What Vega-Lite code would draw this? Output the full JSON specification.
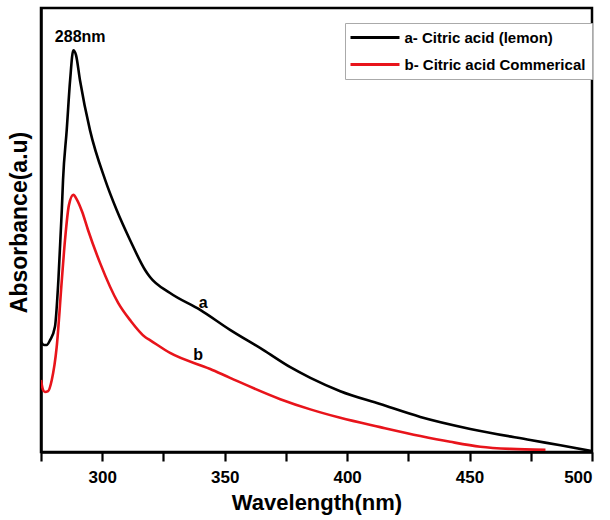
{
  "$schema": "https://vega.github.io/schema/vega-lite/v6.json",
  "width": 551,
  "height": 444,
  "autosize": {"type": "none"},
  "padding": {"left": 41, "top": 8, "right": 18, "bottom": 68},
  "background": "white",
  "config": {
    "view": {"stroke": "black", "strokeWidth": 2.5},
    "font": "Liberation Sans"
  },
  "datasets": {
    "spec": [
      {"s": "a- Citric acid (lemon)", "w": 275.0, "A": 24.8},
      {"s": "a- Citric acid (lemon)", "w": 276.2, "A": 24.1},
      {"s": "a- Citric acid (lemon)", "w": 277.3, "A": 24.1},
      {"s": "a- Citric acid (lemon)", "w": 278.7, "A": 25.2},
      {"s": "a- Citric acid (lemon)", "w": 280.7, "A": 28.2},
      {"s": "a- Citric acid (lemon)", "w": 282.1, "A": 38.7},
      {"s": "a- Citric acid (lemon)", "w": 283.5, "A": 54.5},
      {"s": "a- Citric acid (lemon)", "w": 284.0, "A": 61.3},
      {"s": "a- Citric acid (lemon)", "w": 285.5, "A": 72.5},
      {"s": "a- Citric acid (lemon)", "w": 286.9, "A": 83.8},
      {"s": "a- Citric acid (lemon)", "w": 288.2, "A": 90.5},
      {"s": "a- Citric acid (lemon)", "w": 289.3, "A": 89.4},
      {"s": "a- Citric acid (lemon)", "w": 290.9, "A": 83.8},
      {"s": "a- Citric acid (lemon)", "w": 295.0, "A": 72.5},
      {"s": "a- Citric acid (lemon)", "w": 301.2, "A": 61.3},
      {"s": "a- Citric acid (lemon)", "w": 305.9, "A": 54.5},
      {"s": "a- Citric acid (lemon)", "w": 311.4, "A": 47.7},
      {"s": "a- Citric acid (lemon)", "w": 317.5, "A": 41.0},
      {"s": "a- Citric acid (lemon)", "w": 319.5, "A": 39.4},
      {"s": "a- Citric acid (lemon)", "w": 327.7, "A": 35.8},
      {"s": "a- Citric acid (lemon)", "w": 340.0, "A": 32.0},
      {"s": "a- Citric acid (lemon)", "w": 352.2, "A": 27.5},
      {"s": "a- Citric acid (lemon)", "w": 365.7, "A": 23.0},
      {"s": "a- Citric acid (lemon)", "w": 376.8, "A": 19.1},
      {"s": "a- Citric acid (lemon)", "w": 385.0, "A": 16.7},
      {"s": "a- Citric acid (lemon)", "w": 397.2, "A": 13.7},
      {"s": "a- Citric acid (lemon)", "w": 413.5, "A": 10.8},
      {"s": "a- Citric acid (lemon)", "w": 429.9, "A": 7.9},
      {"s": "a- Citric acid (lemon)", "w": 450.3, "A": 5.2},
      {"s": "a- Citric acid (lemon)", "w": 474.8, "A": 2.7},
      {"s": "a- Citric acid (lemon)", "w": 487.1, "A": 1.5},
      {"s": "a- Citric acid (lemon)", "w": 500.0, "A": 0.2},
      {"s": "b- Citric acid Commerical", "w": 275.0, "A": 16.2},
      {"s": "b- Citric acid Commerical", "w": 275.8, "A": 14.0},
      {"s": "b- Citric acid Commerical", "w": 276.6, "A": 13.5},
      {"s": "b- Citric acid Commerical", "w": 277.9, "A": 13.7},
      {"s": "b- Citric acid Commerical", "w": 279.4, "A": 16.2},
      {"s": "b- Citric acid Commerical", "w": 281.4, "A": 23.6},
      {"s": "b- Citric acid Commerical", "w": 283.5, "A": 38.7},
      {"s": "b- Citric acid Commerical", "w": 284.8, "A": 47.7},
      {"s": "b- Citric acid Commerical", "w": 286.4, "A": 55.6},
      {"s": "b- Citric acid Commerical", "w": 288.2, "A": 57.9},
      {"s": "b- Citric acid Commerical", "w": 289.7, "A": 56.8},
      {"s": "b- Citric acid Commerical", "w": 291.8, "A": 54.1},
      {"s": "b- Citric acid Commerical", "w": 294.2, "A": 50.0},
      {"s": "b- Citric acid Commerical", "w": 299.1, "A": 42.6},
      {"s": "b- Citric acid Commerical", "w": 306.5, "A": 33.6},
      {"s": "b- Citric acid Commerical", "w": 311.4, "A": 29.7},
      {"s": "b- Citric acid Commerical", "w": 317.5, "A": 25.9},
      {"s": "b- Citric acid Commerical", "w": 319.5, "A": 25.2},
      {"s": "b- Citric acid Commerical", "w": 327.7, "A": 22.3},
      {"s": "b- Citric acid Commerical", "w": 344.1, "A": 18.7},
      {"s": "b- Citric acid Commerical", "w": 352.2, "A": 16.7},
      {"s": "b- Citric acid Commerical", "w": 372.7, "A": 11.9},
      {"s": "b- Citric acid Commerical", "w": 385.0, "A": 9.6},
      {"s": "b- Citric acid Commerical", "w": 397.2, "A": 7.7},
      {"s": "b- Citric acid Commerical", "w": 413.5, "A": 5.6},
      {"s": "b- Citric acid Commerical", "w": 429.9, "A": 3.6},
      {"s": "b- Citric acid Commerical", "w": 442.1, "A": 2.3},
      {"s": "b- Citric acid Commerical", "w": 454.4, "A": 1.2},
      {"s": "b- Citric acid Commerical", "w": 466.7, "A": 0.7},
      {"s": "b- Citric acid Commerical", "w": 481.0, "A": 0.5}
    ],
    "notes": [
      {"label": "288nm", "w": 291, "A": 93.5},
      {"label": "a", "w": 341.2, "A": 33.6},
      {"label": "b", "w": 339.2, "A": 21.8}
    ]
  },
  "layer": [
    {
      "data": {"name": "spec"},
      "mark": {"type": "line", "strokeWidth": 2.6, "clip": true, "interpolate": "monotone"},
      "encoding": {
        "x": {
          "field": "w", "type": "quantitative",
          "scale": {"domain": [275, 500], "nice": false, "zero": false},
          "axis": {
            "title": "Wavelength(nm)",
            "values": [275, 300, 325, 350, 375, 400, 425, 450, 475, 500],
            "labelExpr": "datum.value % 50 == 0 ? datum.label : ''",
            "grid": false,
            "domainColor": "black", "domainWidth": 2.5,
            "tickColor": "black", "tickWidth": 2.2, "tickSize": 9,
            "labelFont": "Liberation Sans", "labelFontWeight": "bold", "labelFontSize": 17, "labelColor": "black", "labelPadding": 8,
            "titleFont": "Liberation Sans", "titleFontWeight": "bold", "titleFontSize": 22, "titleColor": "black", "titlePadding": 7
          }
        },
        "y": {
          "field": "A", "type": "quantitative",
          "scale": {"domain": [0, 100], "nice": false},
          "axis": {
            "title": "Absorbance(a.u)",
            "labels": false, "ticks": false, "grid": false,
            "domainColor": "black", "domainWidth": 2.5,
            "titleFont": "Liberation Sans", "titleFontWeight": "bold", "titleFontSize": 23, "titleColor": "black", "titlePadding": 10,
            "titleY": 214
          }
        },
        "color": {
          "field": "s", "type": "nominal",
          "scale": {"domain": ["a- Citric acid (lemon)", "b- Citric acid Commerical"], "range": ["#000000", "#e8141b"]},
          "legend": {
            "title": null,
            "orient": "none", "legendX": 304, "legendY": 15,
            "strokeColor": "#aaaaaa", "fillColor": "white", "padding": 6,
            "symbolType": "M-3.5,0H3.5", "symbolStrokeWidth": 3, "symbolSize": 196,
            "symbolOffset": 15.5, "labelOffset": 21, "labelLimit": 400,
            "labelFont": "Liberation Sans", "labelFontWeight": "bold", "labelFontSize": 15, "labelColor": "black",
            "rowPadding": 10
          }
        }
      }
    },
    {
      "data": {"name": "notes"},
      "mark": {"type": "text", "font": "Liberation Sans", "fontWeight": "bold", "fontSize": 16, "color": "black"},
      "encoding": {
        "x": {"field": "w", "type": "quantitative"},
        "y": {"field": "A", "type": "quantitative"},
        "text": {"field": "label"}
      }
    }
  ]
}
